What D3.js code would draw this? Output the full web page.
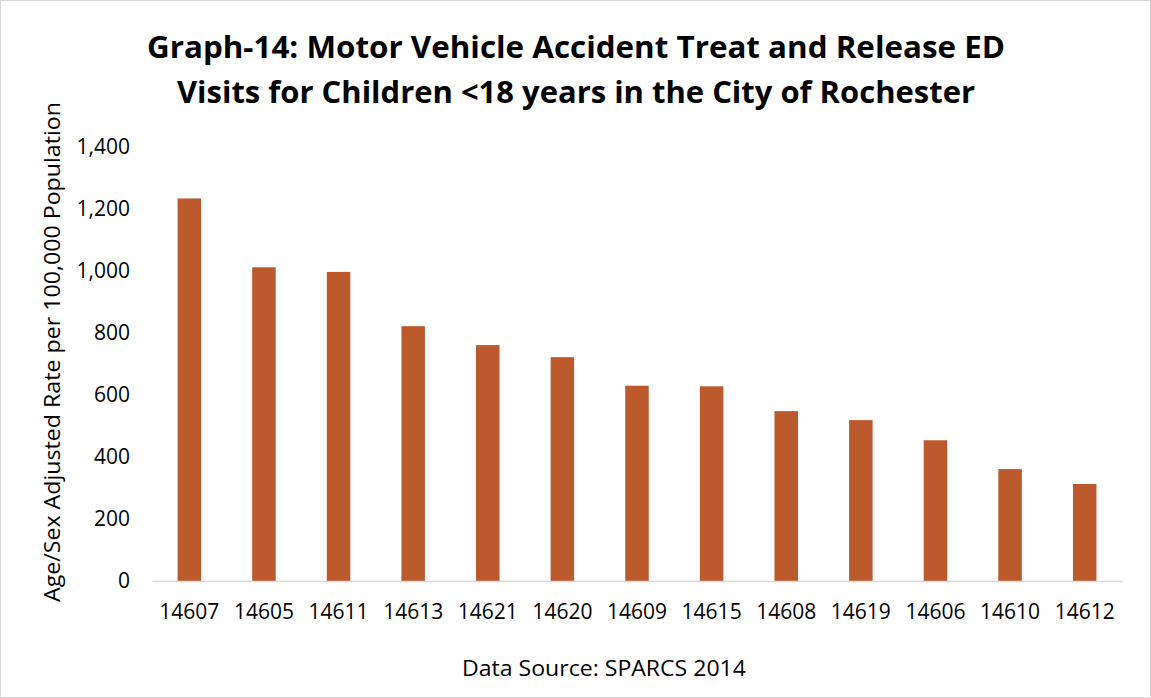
<!DOCTYPE html>
<html>
<head>
<meta charset="utf-8">
<script src="https://cdn.jsdelivr.net/npm/d3@7"></script>
<style>
  body { margin: 0; background: #fff; }
  text { font-family: "Open Sans", "Liberation Sans", sans-serif; fill: #000; }
</style>
</head>
<body>
<svg></svg>
<script>
var zipCodes = ['14607', '14605', '14611', '14613', '14621', '14620', '14609', '14615', '14608', '14619', '14606', '14610', '14612'];
var rates = [1234, 1012, 997, 822, 761, 722, 630, 628, 548, 519, 454, 361, 313];
var yTicks = [0, 200, 400, 600, 800, 1000, 1200, 1400];
var titleLines = ['Graph-14: Motor Vehicle Accident Treat and Release ED', 'Visits for Children <18 years in the City of Rochester'];

var W = 1151, H = 698;

var svg = d3.select('svg')
   .attr('width', W)
   .attr('height', H)

// outer frame
svg.append('rect')
   .attr('x', 0.5).attr('y', 0.5)
   .attr('width', W - 1).attr('height', H - 1)
   .attr('fill', '#fff')
   .attr('stroke', '#d9d9d9')

var x = d3.scaleBand()
   .domain(zipCodes)
   .range([152, 1122])
   .paddingInner(0.685)
   .paddingOuter(0.3425)

var y = d3.scaleLinear()
   .domain([0, 1400])
   .range([581, 147])

// title
svg.append('g')
   .selectAll('text')
   .data(titleLines)
   .enter()
   .append('text')
   .attr('x', 576)
   .attr('y', (d, i) => 58 + i * 45)
   .attr('text-anchor', 'middle')
   .attr('font-size', 30)
   .attr('font-weight', 'bold')
   .attr('textLength', (d, i) => i === 0 ? 858 : 798)
   .attr('lengthAdjust', 'spacingAndGlyphs')
   .text((d) => d)

// y axis (labels only)
var yAxis = svg.append('g')
   .attr('transform', 'translate(130,0)')
   .call(d3.axisLeft(y)
      .tickValues(yTicks)
      .tickSize(0)
      .tickPadding(0)
      .tickFormat(d3.format(',')))
yAxis.select('.domain').remove()
yAxis.selectAll('text')
   .attr('font-size', 21)
   .attr('font-family', '"Open Sans", sans-serif')
   .attr('fill', '#000')

// bars
svg.append('g')
   .selectAll('rect')
   .data(rates)
   .enter()
   .append('rect')
   .attr('x', (d, i) => x(zipCodes[i]))
   .attr('width', x.bandwidth())
   .attr('y', (d) => y(d))
   .attr('height', (d) => y(0) - y(d))
   .attr('fill', '#bd5a2d')

// x axis
var xAxis = svg.append('g')
   .attr('transform', 'translate(0,' + y(0) + ')')
   .call(d3.axisBottom(x).tickSize(0).tickPadding(23))
xAxis.select('.domain')
   .attr('stroke', '#d9d9d9')
   .attr('stroke-width', 1.5)
xAxis.selectAll('text')
   .attr('font-size', 21)
   .attr('font-family', '"Open Sans", sans-serif')
   .attr('fill', '#000')

// y axis title
svg.append('text')
   .attr('transform', 'translate(60,352) rotate(-90)')
   .attr('text-anchor', 'middle')
   .attr('font-size', 21)
   .attr('textLength', 500)
   .attr('lengthAdjust', 'spacingAndGlyphs')
   .text('Age/Sex Adjusted Rate per 100,000 Population')

// source note
svg.append('text')
   .attr('x', 604)
   .attr('y', 676)
   .attr('text-anchor', 'middle')
   .attr('font-size', 21)
   .attr('textLength', 284)
   .attr('lengthAdjust', 'spacingAndGlyphs')
   .text('Data Source: SPARCS 2014')
</script>
</body>
</html>
